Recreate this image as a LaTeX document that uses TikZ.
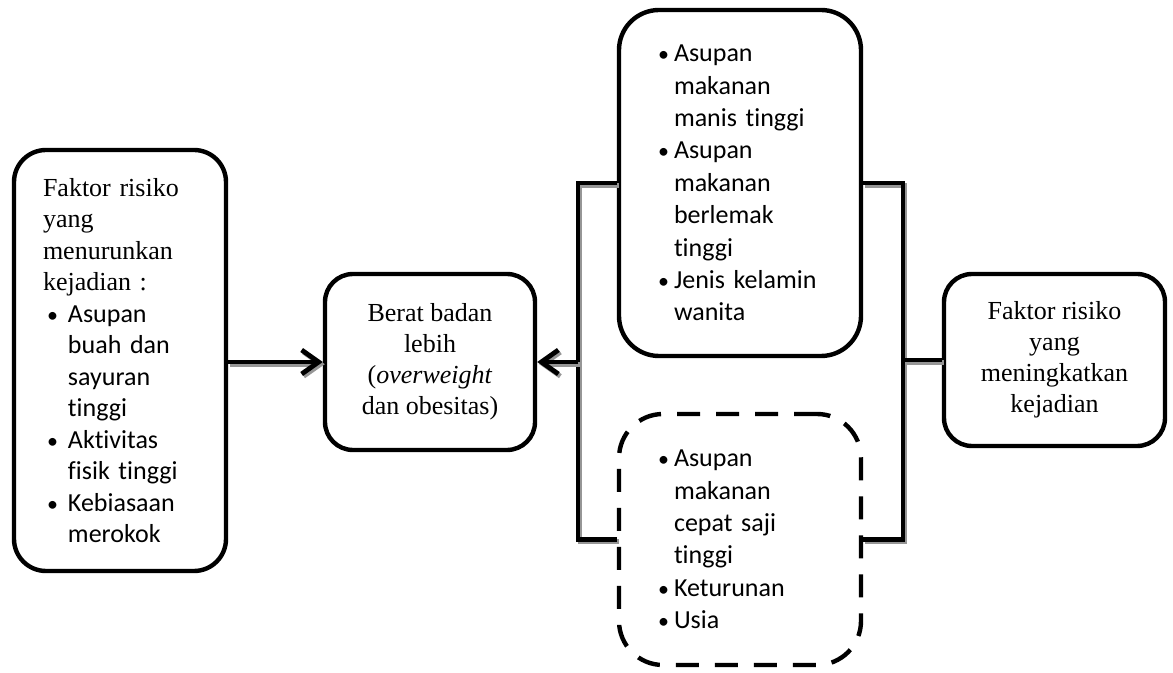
\documentclass[tikz,border=0pt]{standalone}
\usepackage{fontspec}
\setmainfont{Liberation Serif}
\newfontfamily\bulfont{Carlito}[Ligatures=NoCommon]
\usetikzlibrary{arrows.meta,positioning,calc}
\definecolor{fkedge}{RGB}{0,0,0}
\definecolor{fkshade}{RGB}{150,150,150}
\newlength{\bulw}
\setlength{\bulw}{10pt}
\newcommand{\fkbul}{\makebox[\bulw][l]{\hspace{2pt}{\fontsize{11}{11}\selectfont•}}}
\newcommand{\bulind}{\hspace*{\bulw}}
\tikzset{
  fkbox/.style={
    draw=fkedge, line width=2.2pt, rounded corners=16pt, fill=white,
    inner sep=0pt, font=\fontsize{13}{15.5}\selectfont
  },
  listbox/.style={fkbox, text width=86pt, align=left,
    font=\fontsize{13}{16.2}\selectfont\bulfont},
  dashbox/.style={listbox, dash pattern=on 11.5pt off 8pt, rounded corners=22pt},
  conn/.style={
    draw=fkedge, line width=2.4pt,
    preaction={draw=fkshade, line width=2.4pt,
      transform canvas={xshift=1pt, yshift=-1.1pt}}
  },
  arr/.style={conn, -{Straight Barb[length=8.5pt,width=12pt]}}
}
\begin{document}
\begin{tikzpicture}[x=0.5pt, y=-0.5pt]
  \useasboundingbox (0,0) rectangle (1173,673);
  % left: factors lowering
  \node[fkbox, minimum width=106pt, minimum height=210.5pt, text width=77pt,
    align=left, font=\fontsize{13}{15.75}\selectfont] (L) at (120,360.5)
    {\setlength{\bulw}{12.5pt}Faktor risiko\\ yang\\ menurunkan\\ kejadian :\\
     \bulfont\fkbul Asupan\\ \bulind buah dan\\ \bulind sayuran\\ \bulind tinggi\\
     \fkbul Aktivitas\\ \bulind fisik tinggi\\ \fkbul Kebiasaan\\ \bulind merokok};
  \node[fkbox, minimum width=105pt, minimum height=88pt, align=center,
    rounded corners=14pt] (M) at (430,362)
    {Berat badan\\ lebih\\ (\textit{overweight}\\ dan obesitas)};
  % right: factors raising
  \node[listbox, minimum width=121pt, minimum height=173pt, rounded corners=20pt]
    (T) at (740,183)
    {\fkbul Asupan\\ \bulind makanan\\ \bulind manis tinggi\\
     \fkbul Asupan\\ \bulind makanan\\ \bulind berlemak\\ \bulind tinggi\\
     \fkbul Jenis kelamin\\ \bulind wanita};
  \node[dashbox, minimum width=121pt, minimum height=125.5pt] (D) at (740,539.5)
    {\fkbul Asupan\\ \bulind makanan\\ \bulind cepat saji\\ \bulind tinggi\\
     \fkbul Keturunan\\ \fkbul Usia};
  \node[fkbox, minimum width=110.5pt, minimum height=86pt, align=center,
    rounded corners=14pt] (R) at (1054.5,360)
    {Faktor risiko\\ yang\\ meningkatkan\\ kejadian};
  \coordinate (bl) at (578,362);
  \coordinate (br) at (903,360);
  \draw[conn] (T.west) -| (bl) |- (D.west);
  \draw[conn] (T.east) -| (br) |- (D.east);
  \draw[conn] (br) -- (R.west);
  \draw[arr] (L.east |- M.west) -- (M.west);
  \draw[arr] (bl) -- (M.east);
\end{tikzpicture}
\end{document}
